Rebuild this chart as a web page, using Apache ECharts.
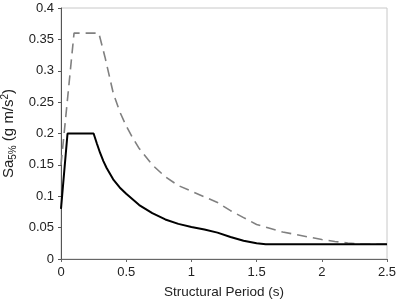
<!DOCTYPE html>
<html>
<head>
<meta charset="utf-8">
<script src="https://cdn.jsdelivr.net/npm/echarts@6/dist/echarts.min.js"></script>
<style>
  html, body { margin: 0; padding: 0; background: #fff; }
  #chart { width: 397px; height: 300px; }
</style>
</head>
<body>
<div id="chart"></div>
<script>
// Structural period (s) and spectral acceleration values
const solidPeriods = [0, 0.05, 0.25, 0.275, 0.3, 0.325, 0.35, 0.4, 0.45, 0.5, 0.6, 0.7, 0.8, 0.9, 1.0, 1.1, 1.2, 1.3, 1.4, 1.5, 1.57, 2.5];
const solidValues = [0.08, 0.2, 0.2, 0.184, 0.169, 0.156, 0.145, 0.127, 0.114, 0.104, 0.086, 0.073, 0.063, 0.056, 0.051, 0.047, 0.042, 0.035, 0.029, 0.025, 0.0235, 0.0235];

const dashedPeriods = [0, 0.1, 0.29, 0.337, 0.4, 0.45, 0.5, 0.55, 0.6, 0.7, 0.8, 0.9, 1.0, 1.1, 1.2, 1.3, 1.4, 1.5, 1.6, 1.7, 1.8, 1.9, 2.0, 2.1, 2.2, 2.3, 2.35, 2.5];
const dashedValues = [0.15, 0.36, 0.36, 0.322, 0.265, 0.235, 0.212, 0.193, 0.176, 0.15, 0.131, 0.117, 0.108, 0.099, 0.09, 0.077, 0.066, 0.055, 0.049, 0.043, 0.039, 0.035, 0.031, 0.028, 0.0255, 0.0238, 0.0235, 0.0235];

const xTicks = [0, 0.5, 1, 1.5, 2, 2.5];
const yTicks = [0, 0.05, 0.1, 0.15, 0.2, 0.25, 0.3, 0.35, 0.4];

const pairs = (xs, ys) => xs.map((x, i) => [x, ys[i]]);

const chart = echarts.init(document.getElementById('chart'));

const font = 'Liberation Sans, Arial, sans-serif';

chart.setOption({
  animation: false,
  grid: {
    left: 61,
    right: 10,
    top: 8,
    bottom: 41,
    outerBoundsMode: 'none',
    containLabel: false,
    show: true,
    borderColor: '#c8c8c8',
    borderWidth: 1
  },
  xAxis: {
    type: 'value',
    min: xTicks[0],
    max: xTicks[xTicks.length - 1],
    interval: 0.5,
    name: 'Structural Period (s)',
    nameLocation: 'middle',
    nameGap: 26,
    nameTextStyle: { fontFamily: font, fontSize: 13.5, color: '#222' },
    axisLine: { show: true, lineStyle: { color: '#666', width: 1 } },
    axisTick: { show: true, length: 3, inside: false, lineStyle: { color: '#666' } },
    axisLabel: {
      fontFamily: font,
      fontSize: 13,
      color: '#222',
      margin: 7,
      formatter: v => String(v)
    },
    splitLine: { show: false }
  },
  yAxis: {
    type: 'value',
    min: yTicks[0],
    max: yTicks[yTicks.length - 1],
    interval: 0.05,
    name: '{a|Sa}{sub|5%}{a| (g m/s}{sup|2}{a|)}',
    nameLocation: 'middle',
    nameRotate: 90,
    nameGap: 31,
    nameTextStyle: {
      fontFamily: font,
      color: '#222',
      rich: {
        a: { fontFamily: font, fontSize: 15, color: '#222', lineHeight: 18 },
        sub: { fontFamily: font, fontSize: 10, color: '#222', lineHeight: 10, verticalAlign: 'bottom' },
        sup: { fontFamily: font, fontSize: 10, color: '#222', lineHeight: 10, verticalAlign: 'top' }
      }
    },
    axisLine: { show: true, lineStyle: { color: '#555', width: 1 } },
    axisTick: { show: true, length: 3, inside: false, lineStyle: { color: '#555' } },
    axisLabel: {
      fontFamily: font,
      fontSize: 13,
      color: '#222',
      margin: 7,
      formatter: v => String(Math.round(v * 100) / 100)
    },
    splitLine: { show: false }
  },
  series: [
    {
      name: 'dashed',
      type: 'line',
      data: pairs(dashedPeriods, dashedValues),
      showSymbol: false,
      smooth: false,
      lineStyle: { color: '#808080', width: 1.6, type: [10, 6] },
      z: 2
    },
    {
      name: 'solid',
      type: 'line',
      data: pairs(solidPeriods, solidValues),
      showSymbol: false,
      smooth: false,
      lineStyle: { color: '#000', width: 2 },
      z: 3
    }
  ]
});
</script>
</body>
</html>
